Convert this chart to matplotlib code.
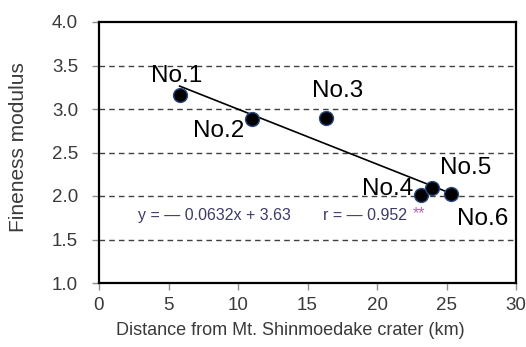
import matplotlib
matplotlib.use("Agg")
import matplotlib.pyplot as plt
import numpy as np

plt.rcParams['font.family'] = ['Liberation Sans', 'DejaVu Sans']

# Data
distance_km = [5.8, 11.0, 16.3, 23.2, 23.96, 25.3]
fineness = [3.16, 2.88, 2.90, 2.01, 2.09, 2.02]
site_labels = ["No.1", "No.2", "No.3", "No.4", "No.5", "No.6"]
label_pos = [(5.6, 3.38), (8.6, 2.75), (17.2, 3.21), (20.8, 2.08), (26.4, 2.32), (27.6, 1.73)]
slope = -0.0632
intercept = 3.63
x_ticks = [0, 5, 10, 15, 20, 25, 30]
y_ticks = [1.0, 1.5, 2.0, 2.5, 3.0, 3.5, 4.0]

fig = plt.figure(figsize=(5.26, 3.47), dpi=100)
ax = fig.add_axes([99/526, 1-283/347, (516-99)/526, (283-22)/347])

ax.set_xlim(0, 30)
ax.set_ylim(1.0, 4.0)

# grid
for yv in y_ticks[1:-1]:
    ax.axhline(yv, color='#404040', lw=1.0, ls=(0, (4, 3)), zorder=1)

# regression line
xl = np.array([min(distance_km), max(distance_km)])
ax.plot(xl, slope*xl + intercept, color='black', lw=1.2, zorder=2)

ax.plot(distance_km, fineness, 'o', color='black', markersize=10,
        markeredgecolor='#2a4a80', markeredgewidth=1.0, zorder=3)

for lab, (lx, ly) in zip(site_labels, label_pos):
    ax.text(lx, ly, lab, fontsize=17.5, ha='center', va='center', color='black', zorder=4)

ax.text(2.8, 1.78, "y = \u2014 0.0632x + 3.63", fontsize=11.5, ha='left', va='center',
        color='#3c3c66', zorder=4)
ax.text(16.1, 1.78, "r = \u2014 0.952", fontsize=11.5, ha='left', va='center',
        color='#3c3c66', zorder=4)
ax.text(22.6, 1.80, "**", fontsize=11.5, ha='left', va='center', color='#b868a8', zorder=4)

ax.set_xticks(x_ticks)
ax.set_yticks(y_ticks)
ax.set_xticklabels([str(v) for v in x_ticks])
ax.set_yticklabels([f"{v:.1f}" for v in y_ticks])
ax.tick_params(axis='both', direction='out', length=5, width=1, color='#909090',
               labelsize=13.5, labelcolor='#3a3a3a')
ax.tick_params(axis='y', pad=10)
ax.tick_params(axis='x', pad=5)

for s in ax.spines.values():
    s.set_color('black')
    s.set_linewidth(1.6)

ax.set_xlabel("Distance from Mt. Shinmoedake crater (km)", fontsize=13, color='#3a3a3a')
ax.xaxis.set_label_coords(0.458, -0.15)
ax.set_ylabel("Fineness modulus", fontsize=15, color='#3a3a3a')
ax.yaxis.set_label_coords(-0.17, 0.52)

fig.savefig("out.png", dpi=100)
